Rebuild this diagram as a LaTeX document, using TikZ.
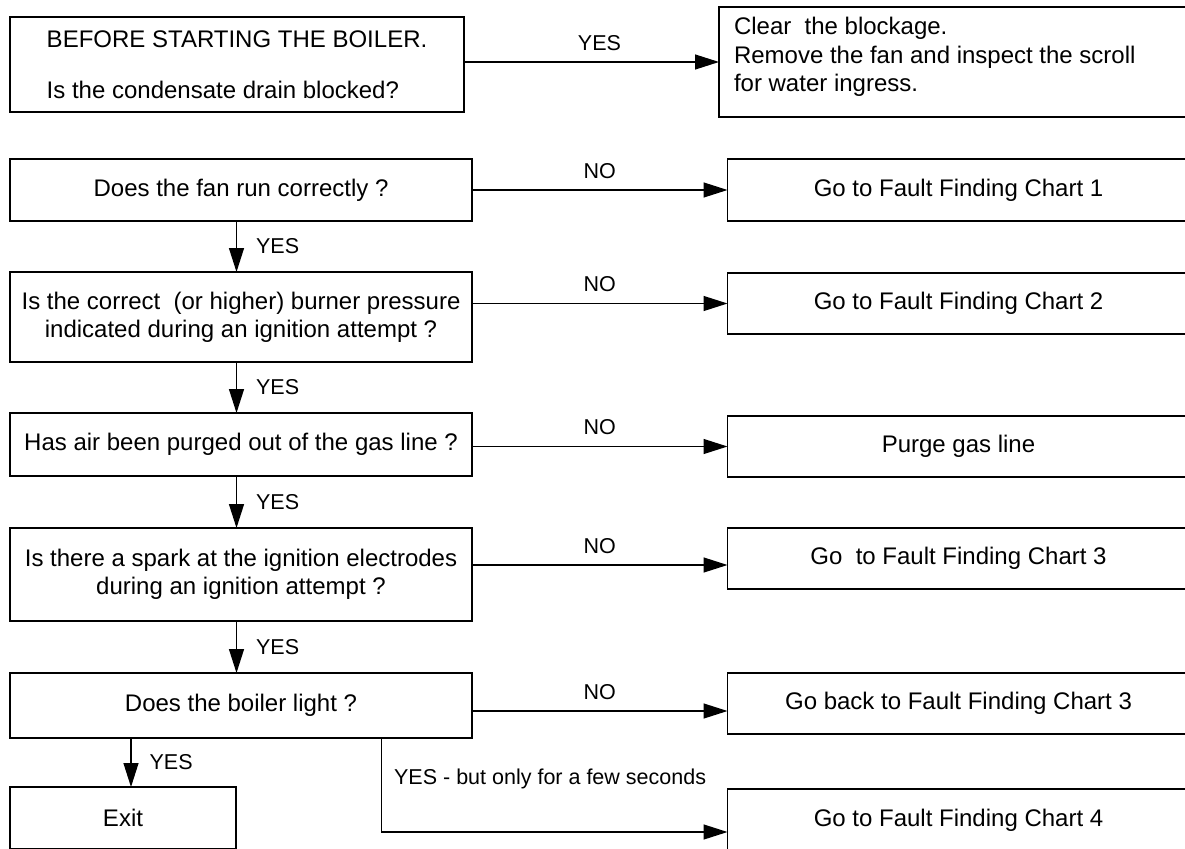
\documentclass[tikz,border=0pt]{standalone}
\usepackage{fontspec}
\setmainfont{Liberation Sans}
\usetikzlibrary{arrows.meta, positioning, calc}

\begin{document}
\begin{tikzpicture}[
    x=1pt, y=-1pt,
    node distance = 51pt and 255.5pt,
    % Style for the question and action blocks
    ask/.style = {
        rectangle, draw, line width=1.3pt,
        minimum width=462pt, minimum height=62pt,
        align=center, inner sep=0pt, outer sep=0pt,
        font=\fontsize{24}{28}\selectfont
    },
    % Style for the YES / NO texts on the connectors
    tag/.style = {font=\fontsize{21.5}{25}\selectfont, inner sep=0pt},
    arr/.style = {-{Triangle[length=24pt, width=15pt]}, line width=1.3pt},
]

\useasboundingbox (0,0) rectangle (1185,848);
\clip (0,0) rectangle (1185,848);

% --- 1. QUESTIONS (LEFT COLUMN) ---
\node[ask, minimum width=454pt, minimum height=95pt, align=left, anchor=north west] (drain) at (10,17)
    {BEFORE STARTING THE BOILER.\\[23pt]Is the condensate drain blocked?};
\node[ask, below=47pt of drain.south west, anchor=north west] (fan) {Does the fan run correctly ?};
\node[ask, minimum height=90pt, below=of fan.south west, anchor=north west] (burner)
    {Is the correct\ \ (or higher) burner pressure\\indicated during an ignition attempt ?};
\node[ask, minimum height=63pt, below=of burner.south west, anchor=north west] (purged)
    {Has air been purged out of the gas line ?};
\node[ask, minimum height=93pt, below=52pt of purged.south west, anchor=north west] (spark)
    {Is there a spark at the ignition electrodes\\during an ignition attempt ?};
\node[ask, minimum height=65pt, below=52pt of spark.south west, anchor=north west] (light) {Does the boiler light ?};
\node[ask, minimum width=226pt, below=49pt of light.south west, anchor=north west] (exit) {Exit};

% --- 2. ACTIONS (RIGHT COLUMN) ---
\node[ask, minimum width=470pt, minimum height=110pt, anchor=north west] (clear) at (719,7) {};
\node[ask, draw=none, minimum width=0pt, minimum height=0pt, align=left, anchor=north west,
      font=\fontsize{24}{28.5}\selectfont] (cleartxt) at ([shift={(15pt,-10.5pt)}]clear.north west)
    {Clear\ \ the blockage.\\Remove the fan and inspect the scroll\\for water ingress.};
\node[ask, right=of fan.north east, anchor=north west] (chart1) {Go to Fault Finding Chart 1};
\node[ask, minimum height=61pt, below=52pt of chart1.south west, anchor=north west] (chart2) {Go to Fault Finding Chart 2};
\node[ask, minimum height=61pt, below=82pt of chart2.south west, anchor=north west] (purge) {Purge gas line};
\node[ask, minimum height=61pt, below=of purge.south west, anchor=north west] (chart3) {Go\ \ to Fault Finding Chart 3};
\node[ask, minimum height=61pt, below=84pt of chart3.south west, anchor=north west] (goback) {Go back to Fault Finding Chart 3};
\node[ask, below=55pt of goback.south west, anchor=north west] (chart4) {Go to Fault Finding Chart 4};

% --- 3. CONNECTORS ---
% YES path down the left column
\draw[arr] ([xshift=-4.5pt]fan.south) -- ([xshift=-4.5pt]burner.north) node[tag, midway, right=19pt] {YES};
\draw[arr] ([xshift=-4.5pt]burner.south) -- ([xshift=-4.5pt]purged.north) node[tag, midway, right=19pt] {YES};
\draw[arr] ([xshift=-4.5pt]purged.south) -- ([xshift=-4.5pt]spark.north) node[tag, midway, right=19pt] {YES};
\draw[arr] ([xshift=-4.5pt]spark.south) -- ([xshift=-4.5pt]light.north) node[tag, midway, right=19pt] {YES};
\coordinate (drop) at ($(exit.north)+(8,0)$);
\draw[arr] (light.south -| drop) -- (drop) node[tag, midway, right=18pt] {YES};

% Branches to the right column
\draw[arr] (drain.east |- clear.west) -- (clear.west) node[tag, midway, above=11pt, xshift=8pt] {YES};
\draw[arr] (fan.east) -- (chart1.west) node[tag, midway, above=11pt] {NO};
\draw[arr] (burner.east |- chart2.west) -- (chart2.west) node[tag, midway, above=11pt] {NO};
\draw[arr] (purged.east |- purge.west) -- (purge.west) node[tag, midway, above=11pt] {NO};
\coordinate (in3) at ($(chart3.west)+(0,6.5)$);
\draw[arr] (spark.east |- in3) -- (in3) node[tag, midway, above=11pt] {NO};
\coordinate (in5) at ($(goback.west)+(0,7.5)$);
\draw[arr] (light.east |- in5) -- (in5) node[tag, midway, above=11pt] {NO};
\coordinate (tap) at ($(light.south east)+(-90.5,0)$);
\coordinate (in6) at ($(chart4.west)+(0,12)$);
\draw[arr] (tap) |- (in6) node[tag, pos=0.22, right=12pt] {YES - but only for a few seconds};

\end{tikzpicture}
\end{document}
